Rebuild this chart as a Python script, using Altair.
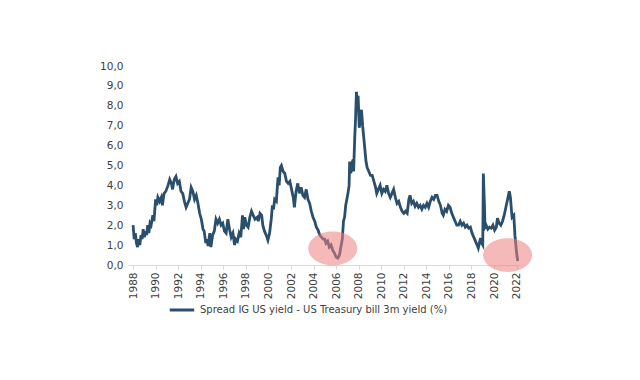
import altair as alt
import pandas as pd

years = [1988.0,1988.1,1988.2,1988.3,1988.4,1988.5,1988.6,1988.7,1988.8,1988.9,
1989.0,1989.1,1989.2,1989.3,1989.4,1989.5,1989.6,1989.75,1989.85,
1990.0,1990.1,1990.2,1990.35,1990.5,1990.6,1990.75,1990.9,
1991.1,1991.25,1991.4,1991.5,1991.65,1991.8,1991.95,
1992.1,1992.25,1992.4,1992.55,1992.7,1992.85,
1993.0,1993.15,1993.3,1993.45,1993.6,1993.75,1993.9,
1994.05,1994.2,1994.3,1994.45,1994.55,1994.65,1994.8,1994.9,
1995.05,1995.2,1995.35,1995.5,1995.65,1995.8,1995.95,
1996.1,1996.25,1996.4,1996.55,1996.7,1996.85,
1997.0,1997.1,1997.25,1997.4,1997.55,1997.7,1997.8,1997.9,
1998.05,1998.2,1998.35,1998.5,1998.65,1998.8,
1999.0,1999.1,1999.25,1999.4,1999.5,1999.65,1999.8,1999.95,
2000.1,2000.25,2000.35,2000.45,2000.55,2000.7,2000.85,2000.95,
2001.05,2001.15,2001.3,2001.45,2001.6,2001.75,2001.9,
2002.05,2002.2,2002.3,2002.45,2002.6,2002.75,2002.9,
2003.05,2003.2,2003.35,2003.5,2003.65,2003.8,2003.95,
2004.1,2004.25,2004.4,2004.55,2004.7,2004.85,
2005.0,2005.1,2005.25,2005.4,2005.55,2005.7,2005.85,
2006.0,2006.15,2006.3,2006.45,2006.55,2006.65,2006.75,2006.85,2006.95,
2007.05,2007.15,2007.2,2007.3,2007.4,2007.5,2007.55,2007.65,2007.72,2007.8,2007.88,2007.95,
2008.05,2008.15,2008.25,2008.35,2008.45,2008.55,2008.65,2008.75,2008.9,
2009.05,2009.2,2009.35,2009.5,2009.6,2009.75,2009.9,
2010.05,2010.2,2010.35,2010.5,2010.65,2010.8,2010.95,
2011.1,2011.25,2011.4,2011.55,2011.7,2011.85,
2012.0,2012.15,2012.3,2012.45,2012.55,2012.7,2012.85,
2013.0,2013.15,2013.3,2013.45,2013.6,2013.75,2013.9,
2014.05,2014.2,2014.35,2014.5,2014.65,2014.8,2014.95,
2015.1,2015.25,2015.4,2015.5,2015.65,2015.8,2015.95,
2016.1,2016.25,2016.4,2016.55,2016.7,2016.85,
2017.0,2017.15,2017.3,2017.45,2017.6,2017.75,2017.9,
2018.05,2018.2,2018.35,2018.5,2018.6,2018.7,2018.8,2018.9,
2019.0,2019.05,2019.15,2019.2,2019.3,2019.45,2019.6,2019.75,2019.9,
2020.05,2020.2,2020.3,2020.45,2020.6,2020.75,2020.9,
2021.05,2021.2,2021.35,2021.45,2021.55,2021.6,2021.75,2021.85,
2022.0,2022.1]

spread = [2.0,1.3,1.6,1.1,0.9,1.3,1.0,1.5,1.3,1.8,
1.4,1.7,1.5,2.0,1.6,2.1,2.0,2.5,2.2,
3.3,3.0,3.4,3.2,3.4,3.0,3.6,3.7,
4.0,4.3,4.1,3.8,4.3,4.45,4.1,
4.2,3.7,3.6,3.2,2.9,3.1,
3.3,3.9,3.7,3.3,3.5,3.1,2.6,
2.3,1.8,1.7,1.1,1.3,0.95,1.6,0.9,
1.5,1.7,2.3,2.1,2.3,2.0,2.1,
1.7,1.6,2.3,1.8,1.4,1.6,
1.0,1.3,1.2,1.6,1.4,2.5,1.8,2.4,
2.0,1.9,2.4,2.7,2.5,2.3,
2.4,2.2,2.6,2.5,2.0,1.7,1.5,1.25,
1.6,2.3,3.0,2.8,3.3,3.2,4.4,4.0,
4.9,5.0,4.7,4.6,4.2,4.1,4.2,
3.8,3.4,2.9,3.7,4.1,3.6,3.9,
3.5,3.4,3.8,3.3,3.1,2.7,2.4,
2.2,1.9,1.75,1.5,1.4,1.3,
1.3,1.1,1.2,0.9,1.0,0.75,0.6,
0.4,0.35,0.5,1.0,1.3,2.2,2.4,3.0,3.3,
3.6,4.0,5.2,4.6,5.1,5.3,4.7,6.4,7.3,8.7,8.2,8.5,
6.9,7.3,7.8,7.0,6.4,5.8,5.2,4.9,4.7,
4.5,4.5,4.2,3.9,3.6,3.8,4.0,
3.6,3.8,3.7,4.0,3.6,3.4,3.6,
3.8,3.4,3.1,3.2,2.9,2.7,
2.6,2.7,2.6,3.3,3.5,3.1,3.2,
2.95,3.1,2.9,3.0,2.8,3.0,2.9,
3.1,2.9,3.2,3.4,3.3,3.5,3.5,
3.2,3.0,2.6,2.5,2.8,2.7,3.0,
2.9,2.6,2.4,2.2,2.0,2.0,
2.2,2.0,2.1,1.9,2.0,1.85,1.9,
1.6,1.4,1.2,1.0,0.85,1.1,1.35,1.1,
1.0,4.6,3.0,1.9,2.0,1.8,1.9,1.85,2.0,
1.75,1.9,2.35,2.1,2.0,2.2,2.5,
2.9,3.3,3.7,3.4,2.7,2.4,2.5,1.5,
0.6,0.2]

series_name = "Spread IG US yield - US Treasury bill 3m yield (%)"

# highlight ellipses (annotation centres)
circle_years = [2005.7, 2021.2]
circle_values = [0.83, 0.5]

y_ticks = [0, 1, 2, 3, 4, 5, 6, 7, 8, 9, 10]
x_ticks = list(range(1988, 2023, 2))

df = pd.DataFrame({"year": years, "value": spread, "series": series_name})
circles = pd.DataFrame({"year": circle_years, "value": circle_values})

FONT = "DejaVu Sans"

x_scale = alt.Scale(domain=[1987.55, 2022.3], nice=False, zero=False)
y_scale = alt.Scale(domain=[0, 10], nice=False)

x_axis = alt.Axis(title=None, values=x_ticks,
                  labelAngle=-90, labelAlign="right", labelBaseline="middle",
                  labelExpr="format(datum.value, 'd')", labelOverlap=False,
                  domainColor="#d9d9d9", tickColor="#d9d9d9", tickSize=4,
                  labelFont=FONT, labelFontSize=10.5, labelColor="#404040",
                  labelPadding=3, grid=False)
y_axis = alt.Axis(title=None, values=y_ticks, labelOverlap=False,
                  labelExpr="replace(format(datum.value, '.1f'), '.', ',')",
                  domain=False, ticks=False, grid=False,
                  labelFont=FONT, labelFontSize=10.5, labelColor="#404040",
                  labelPadding=5)

line = alt.Chart(df).mark_line(strokeWidth=2.8, interpolate="linear").encode(
    x=alt.X("year:Q", scale=x_scale, axis=x_axis),
    y=alt.Y("value:Q", scale=y_scale, axis=y_axis),
    color=alt.Color("series:N", scale=alt.Scale(range=["#2a4f6c"]),
                    legend=alt.Legend(title=None, orient="none", legendX=40, legendY=230,
                                      symbolType="stroke", symbolSize=600,
                                      symbolStrokeWidth=3, labelFont=FONT,
                                      labelFontSize=10, labelColor="#404040",
                                      labelLimit=400)),
)

ellipse_path = "M -1 0 A 1 0.69 0 1 0 1 0 A 1 0.69 0 1 0 -1 0 Z"
ell = alt.Chart(circles).mark_point(
    shape=ellipse_path, size=2401, filled=True, fill="#ef7f7f", opacity=0.55, strokeWidth=0
).encode(
    x=alt.X("year:Q", scale=x_scale, axis=x_axis),
    y=alt.Y("value:Q", scale=y_scale, axis=y_axis),
)

chart = alt.layer(line, ell).properties(
    width=392, height=199,
    autosize=alt.AutoSizeParams(type="none"),
    padding={"left": 120, "top": 58, "right": 100, "bottom": 100},
    background="white",
).configure_view(stroke=None)

chart.save("out.html", embed_options={"renderer": "svg", "actions": False})
